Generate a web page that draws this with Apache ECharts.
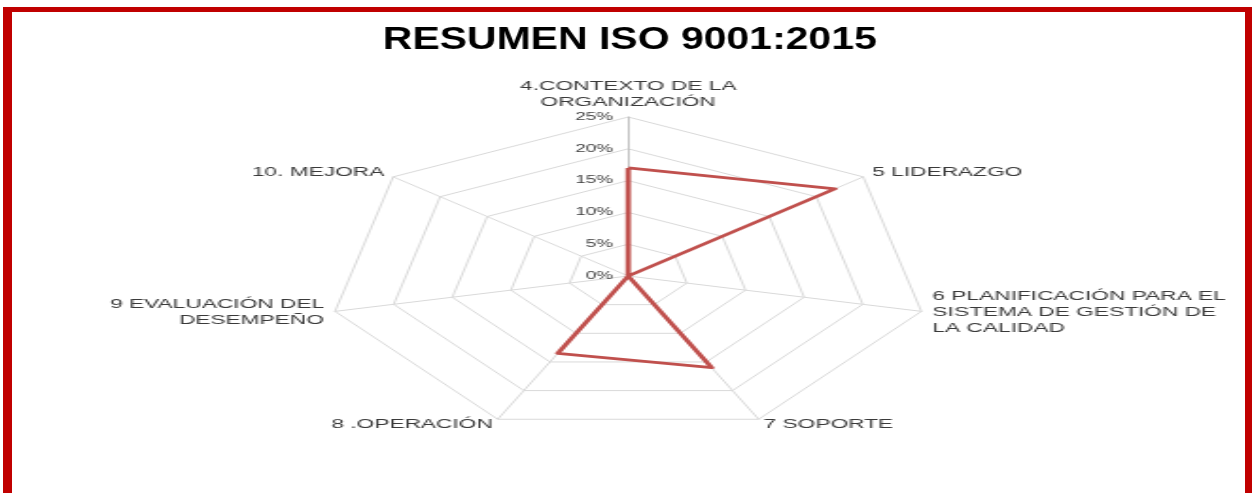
<!DOCTYPE html>
<html>
<head>
<meta charset="utf-8">
<script src="https://cdn.jsdelivr.net/npm/echarts@6/dist/echarts.min.js"></script>
<style>
html,body{margin:0;padding:0;background:#fff;}
#wrap{position:relative;width:1252px;height:493px;overflow:hidden;background:#fff;}
#frame{position:absolute;left:3px;top:7px;width:1249px;height:486px;box-sizing:border-box;border-left:9px solid #C00000;border-top:5px solid #C00000;border-right:7px solid #C00000;}
#radar{position:absolute;left:0;top:0;width:662px;height:493px;transform:scaleX(1.891);transform-origin:0 0;}
#title{position:absolute;left:0;top:0;width:984px;height:80px;transform:scaleX(1.28);transform-origin:0 0;}
</style>
</head>
<body>
<div id="wrap"><div id="frame"></div><div id="radar"></div><div id="title"></div></div>
<script>
// Data (clockwise from top)
const titleText = 'RESUMEN ISO 9001:2015';
const categories = [
  '4.CONTEXTO DE LA\nORGANIZACIÓN',
  '5 LIDERAZGO',
  '6 PLANIFICACIÓN PARA EL\nSISTEMA DE GESTIÓN DE\nLA CALIDAD',
  '7 SOPORTE',
  '8 .OPERACIÓN',
  '9 EVALUACIÓN DEL\nDESEMPEÑO',
  '10. MEJORA'
];
const values = [17, 22, 0, 16, 13.5, 0, 0];
const axisMax = 25;
const tickStep = 5;
const tickSuffix = '%';

// ECharts radar runs counter-clockwise: reorder so the picture reads clockwise
const order = [0].concat(categories.map((_, i) => i).slice(1).reverse());

const labelFont = 'Liberation Sans';
const indicator = order.map((idx, k) => {
  const ind = { name: categories[idx], min: 0, max: axisMax };
  if (k === 0) {
    ind.axisLabel = {
      show: true, color: '#404040', fontSize: 10, fontFamily: labelFont,
      formatter: v => v + tickSuffix, margin: 8
    };
    ind.axisLine = { lineStyle: { color: '#BFBFBF', width: 1 } };
  }
  return ind;
});

const radarChart = echarts.init(document.getElementById('radar'), null, { renderer: 'canvas' });
radarChart.setOption({
  animation: false,
  backgroundColor: 'transparent',
  radar: {
    center: [332.2, 276],
    radius: 159,
    startAngle: 90,
    splitNumber: axisMax / tickStep,
    shape: 'polygon',
    axisNameGap: 6,
    axisName: { color: '#3a3a3a', fontSize: 12, fontFamily: labelFont, lineHeight: 16 },
    axisLine: { lineStyle: { color: '#D9D9D9', width: 1 } },
    splitLine: { lineStyle: { color: '#D9D9D9', width: 1 } },
    splitArea: { show: false },
    indicator: indicator
  },
  series: [{
    type: 'radar',
    symbol: 'none',
    lineStyle: { color: '#C0504D', width: 2.8 },
    data: [{ value: order.map(i => values[i]), name: 'ISO 9001:2015' }]
  }]
});

const titleChart = echarts.init(document.getElementById('title'), null, { renderer: 'canvas' });
titleChart.setOption({
  animation: false,
  backgroundColor: 'transparent',
  title: {
    text: titleText, left: 'center', top: 19,
    textStyle: { fontSize: 32, fontWeight: 'bold', fontFamily: 'Liberation Sans', color: '#000' }
  }
});
</script>
</body>
</html>
